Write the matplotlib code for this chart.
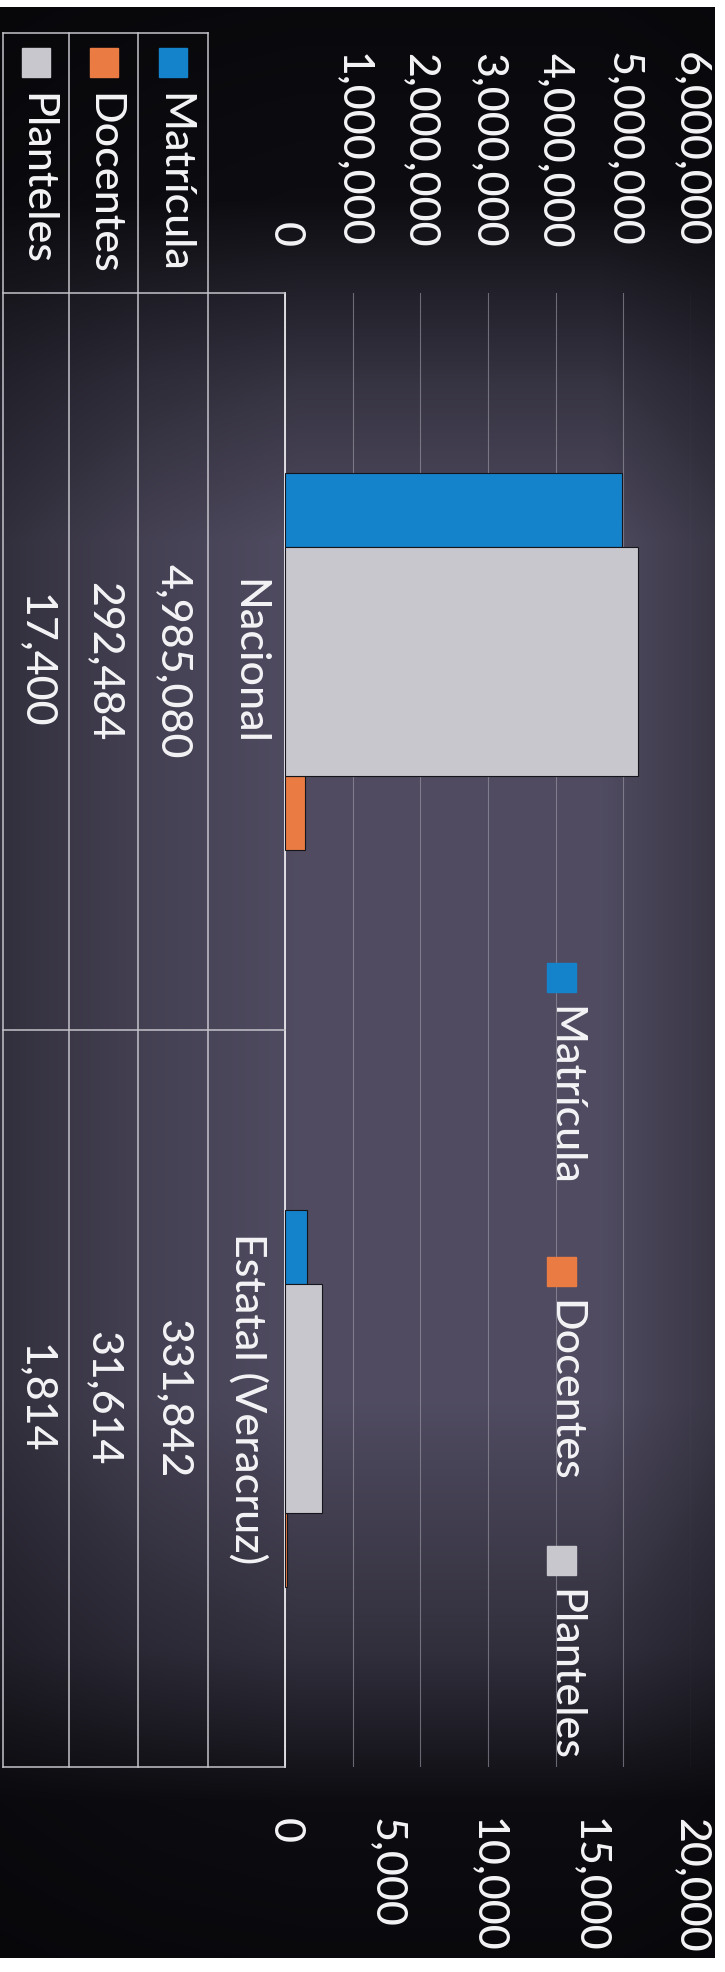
import numpy as np
import matplotlib.pyplot as plt
from matplotlib.patches import Rectangle
from matplotlib.lines import Line2D
from matplotlib.transforms import blended_transform_factory

# datos
categorias = ['Nacional', 'Estatal (Veracruz)']
series = ['Matrícula', 'Docentes', 'Planteles']
matricula = [4985080, 331842]
docentes = [292484, 31614]
planteles = [17400, 1814]
ticks_prim = [0, 1000000, 2000000, 3000000, 4000000, 5000000, 6000000]
ticks_sec = [0, 5000, 10000, 15000, 20000]

colores = ['#1582cc', '#ea7b43', '#c9c7ce']
blanco = '#f4f4f6'
linea_tabla = '#c4c3ca'

W, H = 725, 1972


def fx(px):
    return px / W


def fy(py):
    return 1 - py / H


plt.rcParams['font.family'] = ['Lato', 'DejaVu Sans']
plt.rcParams['font.weight'] = 'medium'
fs = 31

fig = plt.figure(figsize=(7.25, 19.72), dpi=100, facecolor='white')

# fondo oscuro (escaneo)
bg = fig.add_axes([0, fy(1958), fx(715), (1958 - 7) / H])
yy = np.arange(7, 1958)
xx = np.arange(0, 715)
v = np.interp(yy, [7, 200, 380, 540, 1400, 1650, 1800, 1958], [0.05, 0.1, 0.6, 0.92, 0.92, 0.55, 0.1, 0.05])
h = np.interp(xx, [0, 150, 300, 600, 715], [0.6, 0.85, 1, 1, 0.7])
oscuro = np.array([0.02, 0.02, 0.03])
medio = np.array([0.34, 0.32, 0.41])
k = np.outer(v, h)[..., None]
bg.imshow(oscuro + (medio - oscuro) * k, aspect='auto')
bg.axis('off')

# grafica principal
ax = fig.add_axes([fx(285), fy(1767), fx(691) - fx(285), (1767 - 293) / H])
ax.set_facecolor('none')
ax2 = ax.twiny()
ax2.set_facecolor('none')

pos = np.arange(len(categorias)) + 0.5
ax.barh(pos - 0.206, matricula, height=0.1, color=colores[0], edgecolor='#15151c', linewidth=0.8, zorder=3)
ax.barh(pos + 0.206, docentes, height=0.1, color=colores[1], edgecolor='#15151c', linewidth=0.8, zorder=3)
ax2.barh(pos, planteles, height=0.31, color=colores[2], edgecolor='#15151c', linewidth=0.8, zorder=3)

ax.set_xlim(0, 6000000)
ax2.set_xlim(0, 20000)
ax.set_ylim(2, 0)

ax.xaxis.tick_top()
ax.set_xticks(ticks_prim)
ax.set_xticklabels([f'{t:,}' for t in ticks_prim], rotation=-90, fontsize=fs, color=blanco)
ax.tick_params(axis='x', length=0, pad=33)
ax2.xaxis.tick_bottom()
ax2.set_xticks(ticks_sec)
ax2.set_xticklabels([f'{t:,}' for t in ticks_sec], rotation=-90, fontsize=fs, color=blanco)
ax2.tick_params(axis='x', length=0, pad=37)
ax.set_yticks([])
ax2.set_yticks([])

ax.grid(axis='x', color='#a09daa', linewidth=0.8, alpha=0.6, zorder=0)
for a in (ax, ax2):
    for s in a.spines.values():
        s.set_visible(False)
ax.spines['left'].set_visible(True)
ax.spines['left'].set_color('#e8e8ec')
ax.spines['left'].set_linewidth(1.3)

# tabla de datos
def linea(x0, y0, x1, y1):
    fig.add_artist(Line2D([fx(x0), fx(x1)], [fy(y0), fy(y1)], color=linea_tabla, linewidth=1.1))


for x in [3, 69, 138, 208]:
    linea(x, 33, x, 1767)
linea(3, 33, 208, 33)
for y in [293, 1030, 1767]:
    linea(3, y, 285, y)

trans = blended_transform_factory(fig.transFigure, ax.transData)
filas_x = [173, 103.5, 36]
valores = [matricula, docentes, planteles]
for i, c in enumerate(categorias):
    fig.text(fx(248), pos[i], c, transform=trans, rotation=-90, ha='center', va='center',
             fontsize=fs, color=blanco)
    for j in range(3):
        fig.text(fx(filas_x[j]), pos[i], f'{valores[j][i]:,}', transform=trans, rotation=-90,
                 ha='center', va='center', fontsize=fs, color=blanco)

for j, s in enumerate(series):
    fig.add_artist(Rectangle((fx(filas_x[j] - 14), fy(77)), fx(28), 29 / H, color=colores[j]))
    fig.text(fx(filas_x[j]), fy(93), s, rotation=-90, ha='center', va='top', fontsize=fs, color=blanco)

# leyenda
ley_y = [963, 1257, 1546]
for j, s in enumerate(series):
    fig.add_artist(Rectangle((fx(547), fy(ley_y[j] + 29)), fx(29), 29 / H, color=colores[j]))
    fig.text(fx(564), fy(ley_y[j] + 43), s, rotation=-90, ha='center', va='top', fontsize=fs, color=blanco)

plt.savefig('out.png', dpi=100, facecolor=fig.get_facecolor())
